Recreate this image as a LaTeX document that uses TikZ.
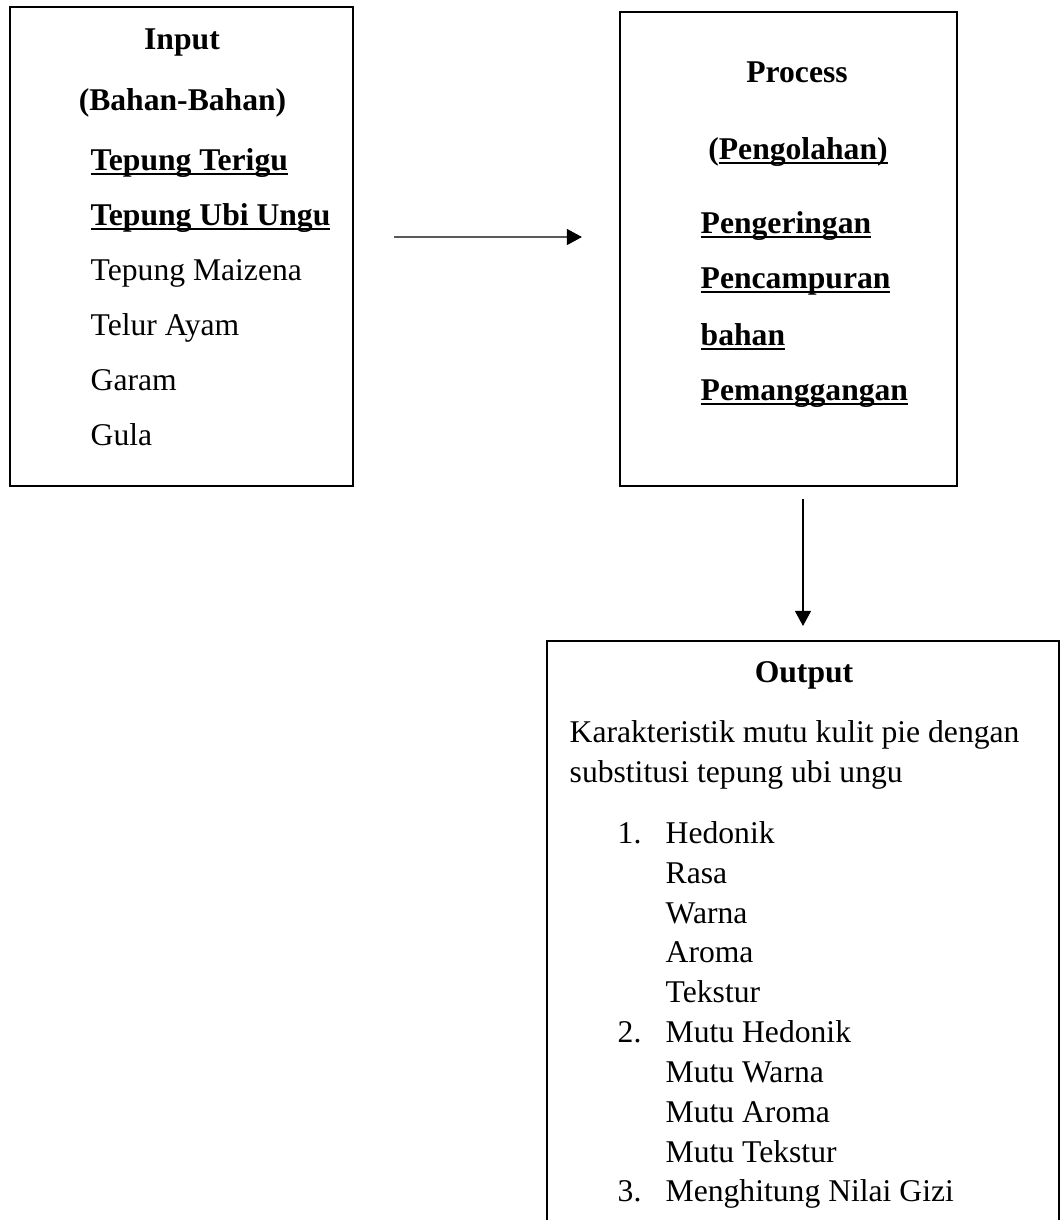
\documentclass[tikz,border=0pt]{standalone}
\usepackage{fontspec}
\setmainfont{Liberation Serif}
\usepackage{tikz}
\usetikzlibrary{arrows.meta}
\newlength{\ulwd}
\newcommand{\ulin}[1]{\settowidth{\ulwd}{#1}\rlap{\rule[-0.15em]{\ulwd}{0.07em}}#1}
\tikzstyle{blk}=[rectangle, draw, line width=0.6pt, inner sep=0pt]
\tikzstyle{txt}=[anchor=base west, inner sep=0pt, font=\fontsize{9}{11}\selectfont]
\tikzstyle{txtc}=[txt, anchor=base]
\tikzstyle{arr}=[-{Triangle[length=1.5mm,width=1.6mm]}, line width=0.3pt]

\begin{document}
\begin{tikzpicture}
\useasboundingbox (0,0) rectangle (10.61,-12.20);
\clip (0,0) rectangle (10.61,-12.20);
% boxes
\node[blk, minimum width=3.43cm, minimum height=4.79cm] (inbox) at (1.815,-2.465) {};
\node[blk, minimum width=3.37cm, minimum height=4.74cm] (probox) at (7.885,-2.49) {};
\node[blk, minimum width=5.12cm, minimum height=6.10cm] (outbox) at (8.03,-9.46) {};
% input
\node[txtc] (in0) at (1.82,-0.49) {\textbf{Input}};
\node[txtc] (in1) at (1.825,-1.10) {\textbf{(Bahan-Bahan)}};
\node[txt] (in2) at (0.90,-1.70) {\textbf{\ulin{Tepung Terigu}}};
\node[txt] (in3) at (0.90,-2.25) {\textbf{\ulin{Tepung Ubi Ungu}}};
\node[txt] (in4) at (0.90,-2.80) {Tepung Maizena};
\node[txt] (in5) at (0.90,-3.35) {Telur Ayam};
\node[txt] (in6) at (0.90,-3.90) {Garam};
\node[txt] (in7) at (0.90,-4.45) {Gula};
% process
\node[txtc] (pr0) at (7.97,-0.82) {\textbf{Process}};
\node[txtc] (pr1) at (7.98,-1.59) {\textbf{(\ulin{Pengolahan)}}};
\node[txt] (pr2) at (7.00,-2.33) {\textbf{\ulin{Pengeringan}}};
\node[txt] (pr3) at (7.00,-2.88) {\textbf{\ulin{Pencampuran}}};
\node[txt] (pr4) at (7.00,-3.45) {\textbf{\ulin{bahan}}};
\node[txt] (pr5) at (7.00,-4.00) {\textbf{\ulin{Pemanggangan}}};
% output
\node[txtc] (out0) at (8.04,-6.82) {\textbf{Output}};
\node[txt] (out1) at (5.69,-7.42) {Karakteristik mutu kulit pie dengan};
\node[txt] (out2) at (5.69,-7.82) {substitusi tepung ubi ungu};
\node[txt] (n1) at (6.17,-8.43) {1.};
\node[txt] (h1) at (6.65,-8.43) {Hedonik};
\node[txt] (h2) at (6.65,-8.83) {Rasa};
\node[txt] (h3) at (6.65,-9.23) {Warna};
\node[txt] (h4) at (6.65,-9.62) {Aroma};
\node[txt] (h5) at (6.65,-10.02) {Tekstur};
\node[txt] (n2) at (6.17,-10.42) {2.};
\node[txt] (m1) at (6.65,-10.42) {Mutu Hedonik};
\node[txt] (m2) at (6.65,-10.82) {Mutu Warna};
\node[txt] (m3) at (6.65,-11.22) {Mutu Aroma};
\node[txt] (m4) at (6.65,-11.62) {Mutu Tekstur};
\node[txt] (n3) at (6.17,-12.01) {3.};
\node[txt] (g1) at (6.65,-12.01) {Menghitung Nilai Gizi};
% arrows
\draw[arr, shorten <=0.40cm, shorten >=0.37cm] ([yshift=0.095cm]inbox.east) -- ([yshift=0.12cm]probox.west);
\draw[arr, shorten <=0.12cm, shorten >=0.14cm] (probox.south -| outbox.north) -- (outbox.north);
\end{tikzpicture}
\end{document}
